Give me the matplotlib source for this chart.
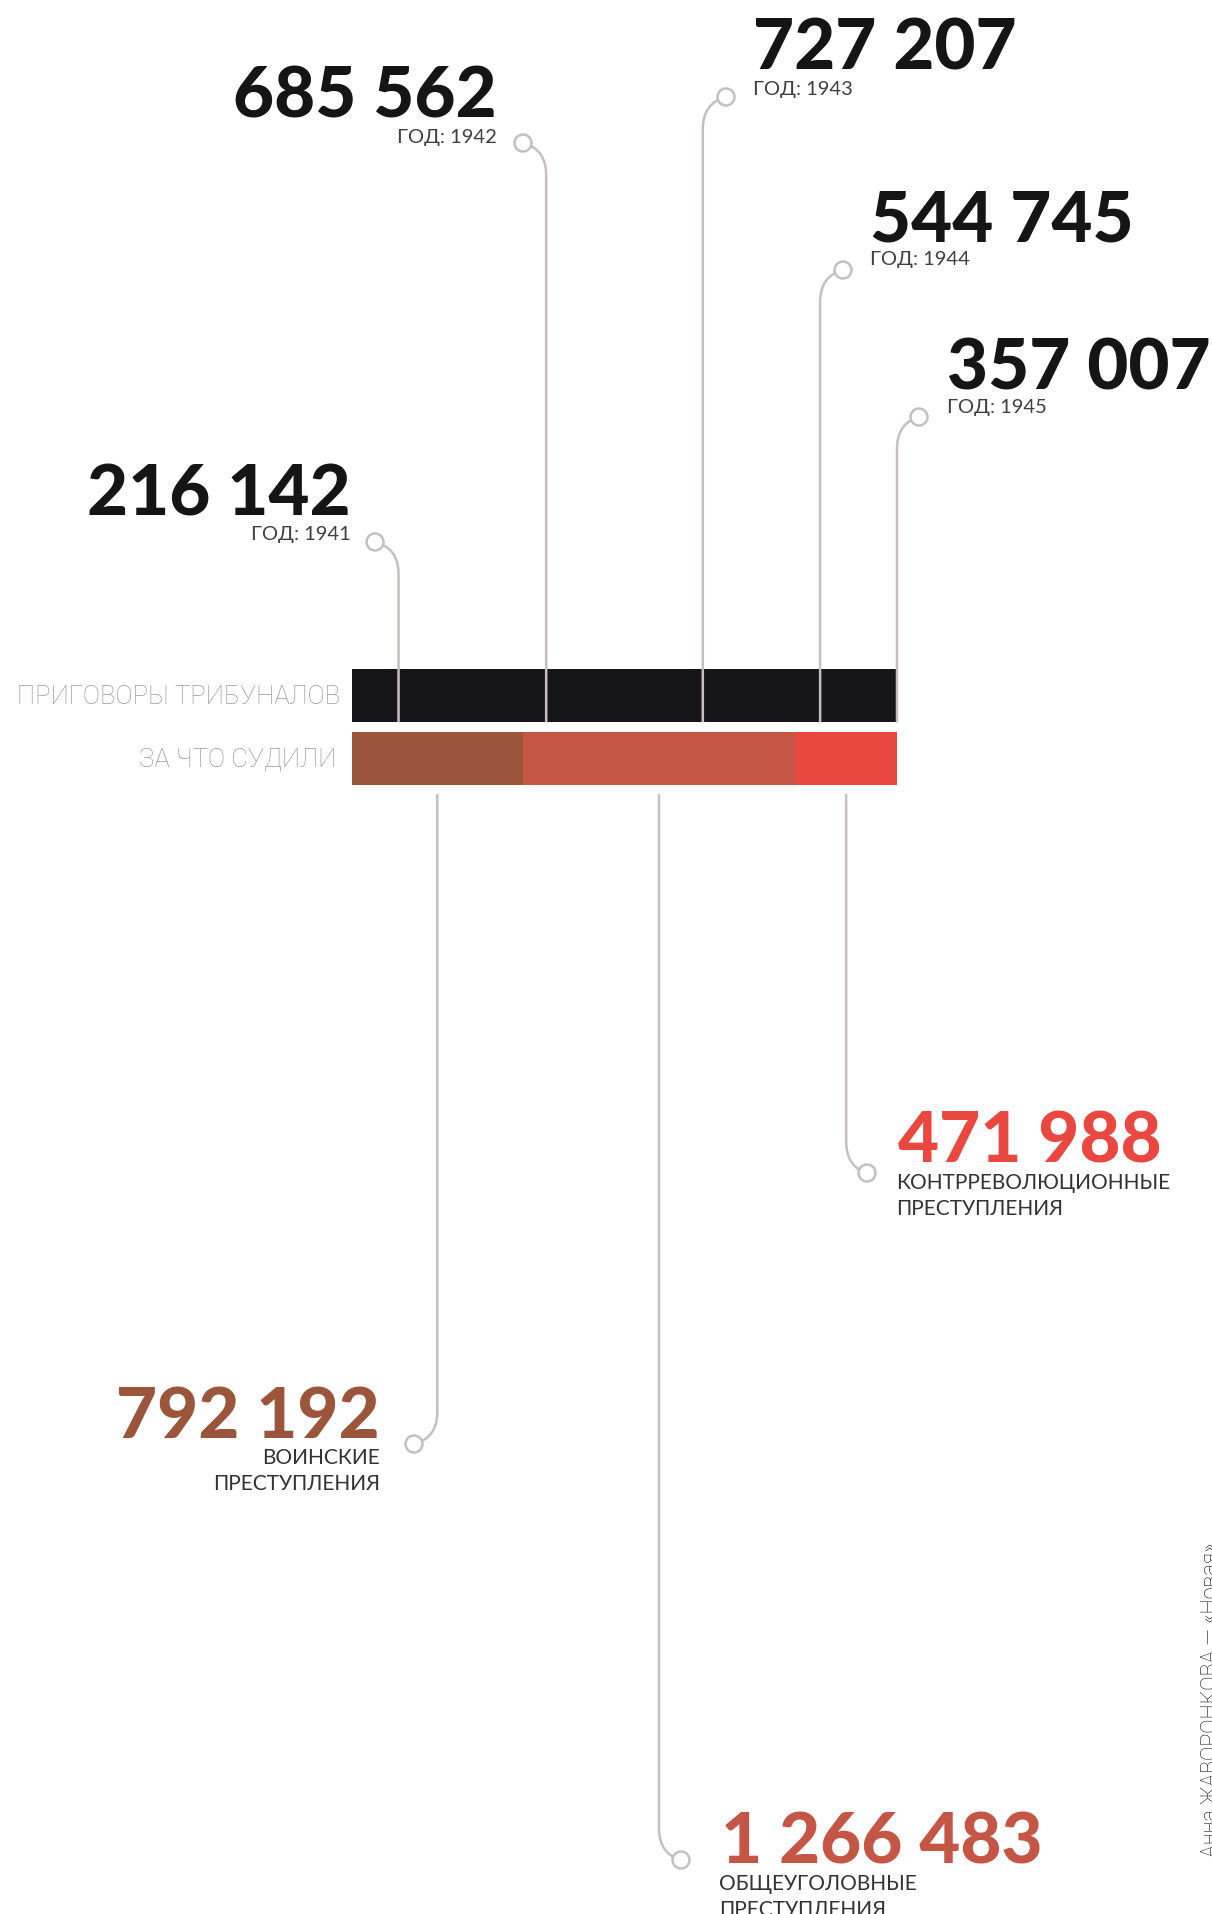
"""Tribunal sentences 1941-1945 and what they were for: two stacked proportional bars
with leader lines to the big numbers."""

import matplotlib
matplotlib.use("Agg")
import matplotlib.pyplot as plt
from matplotlib.patches import Circle, PathPatch
from matplotlib.path import Path

W, H, DPI = 1212, 1915, 100

# --- data -------------------------------------------------------------------
years = ["1941", "1942", "1943", "1944", "1945"]
sentences = [216142, 685562, 727207, 544745, 357007]

crime_labels = [
    "ВОИНСКИЕ\nПРЕСТУПЛЕНИЯ",
    "ОБЩЕУГОЛОВНЫЕ\nПРЕСТУПЛЕНИЯ",
    "КОНТРРЕВОЛЮЦИОННЫЕ\nПРЕСТУПЛЕНИЯ",
]
crime_counts = [792192, 1266483, 471988]

row_labels = ["ПРИГОВОРЫ ТРИБУНАЛОВ", "ЗА ЧТО СУДИЛИ"]
credit = "Анна ЖАВОРОНКОВА — «Новая»"

# --- style / layout (pixels, y grows downwards) -----------------------------
BLACK = "#16161a"
CRIME_COLORS = ["#9a553b", "#c55545", "#e9473f"]
LINE = "#c4c0c0"
NUM_FONT = dict(family="Lato", weight="black")
SMALL_FONT = dict(family="Lato", weight="normal")

BAR_LEFT, BAR_RIGHT = 352, 897
BAR_TOP, BAR_BOTTOM = 670, 786
ROW_H = 0.855

# circle centre, text anchor x, number baseline, alignment
year_layout = [
    dict(circle=(375, 543), x=351, base=516, ha="right"),
    dict(circle=(523, 144), x=497, base=118, ha="right"),
    dict(circle=(726, 98), x=753, base=70, ha="left"),
    dict(circle=(843, 271), x=870, base=241, ha="left"),
    dict(circle=(919, 418), x=947, base=389, ha="left"),
]
crime_layout = [
    dict(circle=(414, 1445), x=380, base=1438, ha="right"),
    dict(circle=(681, 1861), x=721, base=1864, ha="left"),
    dict(circle=(867, 1174), x=898, base=1163, ha="left"),
]


def fmt(v):
    return f"{v:,}".replace(",", " ")


def leader(ax, x, y0, cx, cy):
    """Vertical line from the bar, bending into a small ring."""
    up = cy < y0
    bend = cy + 32 if up else cy - 32
    ctrl = (x, cy + 6 if up else cy - 6)
    path = Path([(x, y0), (x, bend), ctrl, (cx, cy)],
                [Path.MOVETO, Path.LINETO, Path.CURVE3, Path.CURVE3])
    ax.add_patch(PathPatch(path, fill=False, edgecolor=LINE, lw=1.8,
                           capstyle="butt", zorder=3))
    ax.add_patch(Circle((cx, cy), 8.5, facecolor="white", edgecolor=LINE,
                        lw=1.8, zorder=4))


fig = plt.figure(figsize=(W / DPI, H / DPI), dpi=DPI)
fig.patch.set_facecolor("white")

# bar axes: x in data units, placed at exact pixels
ax = fig.add_axes([BAR_LEFT / W, 1 - BAR_BOTTOM / H,
                   (BAR_RIGHT - BAR_LEFT) / W, (BAR_BOTTOM - BAR_TOP) / H])
total = sum(sentences)
ax.barh([0] * len(sentences), sentences,
        left=[sum(sentences[:i]) for i in range(len(sentences))],
        height=ROW_H, color=BLACK, linewidth=0)
crime_left = [sum(crime_counts[:i]) for i in range(len(crime_counts))]
ax.barh([1] * len(crime_counts), crime_counts, left=crime_left,
        height=ROW_H, color=CRIME_COLORS, linewidth=0)
ax.set_xlim(0, total)
ax.set_ylim(1 + ROW_H / 2, -ROW_H / 2)
ax.axis("off")

# overlay axes in figure pixels
ov = fig.add_axes([0, 0, 1, 1])
ov.set_xlim(0, W)
ov.set_ylim(H, 0)
ov.axis("off")


def px(v):
    return ax.transData.transform((v, 0))[0]


black_bottom = H - ax.transData.transform((0, ROW_H / 2))[1]
red_bottom = H - ax.transData.transform((0, 1 + ROW_H / 2))[1]

# years
cum = 0
for year, val, lay in zip(years, sentences, year_layout):
    cum += val
    x = px(cum)
    leader(ov, x, black_bottom, *lay["circle"])
    ov.text(lay["x"], lay["base"], fmt(val), ha=lay["ha"], va="baseline",
            fontsize=51, color="#151515", **NUM_FONT)
    ov.text(lay["x"], lay["base"] + 19, f"ГОД: {year}", ha=lay["ha"], va="center",
            fontsize=14.5, color="#404040", **SMALL_FONT)

# crimes
for left, val, label, col, lay in zip(crime_left, crime_counts, crime_labels,
                                      CRIME_COLORS, crime_layout):
    x = px(left + val / 2)
    leader(ov, x, red_bottom + 9, *lay["circle"])
    ov.text(lay["x"], lay["base"], fmt(val), ha=lay["ha"], va="baseline",
            fontsize=51, color=col, **NUM_FONT)
    for i, line in enumerate(label.split("\n")):
        ov.text(lay["x"] - (2 if lay["ha"] == "left" else 0),
                lay["base"] + 20 + i * 26, line, ha=lay["ha"], va="center",
                fontsize=15, color="#333333", **SMALL_FONT)

# row labels
for i, lab in enumerate(row_labels):
    yc = H - ax.transData.transform((0, i))[1]
    ov.text(BAR_LEFT - 12 - 4 * i, yc, lab, ha="right", va="center",
            fontsize=18.5, color="#9a9a9a", family="Roboto", weight="light")

# photo credit, cut off at the right edge
ov.text(1201, 1857, credit, rotation=90, ha="left", va="bottom",
        fontsize=15.5, color="#111111", family="Roboto", weight="light")

fig.savefig("out.png", dpi=DPI, facecolor="white")
